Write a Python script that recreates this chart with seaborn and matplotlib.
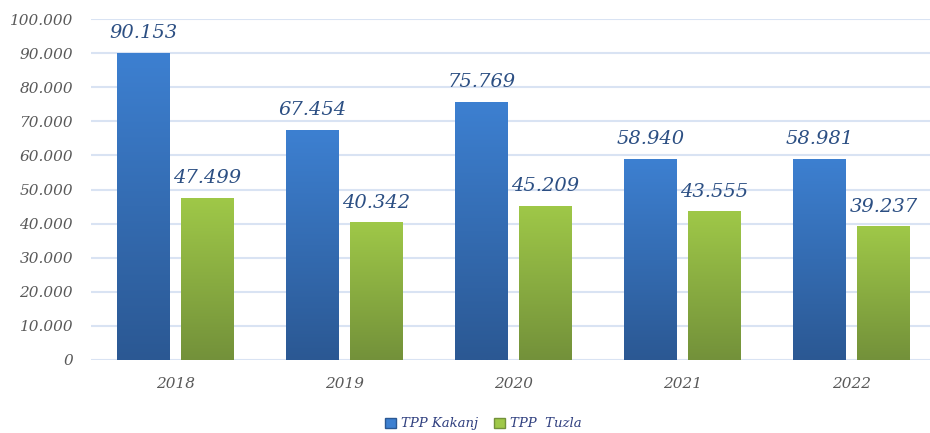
import numpy as np
import pandas as pd
import matplotlib
matplotlib.use("Agg")
import matplotlib.pyplot as plt
from matplotlib.colors import LinearSegmentedColormap
from matplotlib.ticker import FuncFormatter
from matplotlib.patches import Patch
import seaborn as sns

years = ["2018", "2019", "2020", "2021", "2022"]
kakanj = [90153, 67454, 75769, 58940, 58981]
tuzla = [47499, 40342, 45209, 43555, 39237]
series_names = ["TPP Kakanj", "TPP  Tuzla"]

df = pd.DataFrame({
    "year": years * 2,
    "value": kakanj + tuzla,
    "plant": [series_names[0]] * len(years) + [series_names[1]] * len(years),
})

sns.set_theme(style="white")
plt.rcParams["font.family"] = ["DejaVu Serif"]

fig = plt.figure(figsize=(9.3, 4.33), dpi=100)
ax = fig.add_axes([0.098, 0.1686, 0.9086, 0.7874])

grads = {
    series_names[0]: ("#3d80d1", "#2b5893"),
    series_names[1]: ("#9fc848", "#73913a"),
}

sns.barplot(data=df, x="year", y="value", hue="plant", ax=ax,
            palette=[grads[s][0] for s in series_names],
            width=0.757, gap=0.172, legend=False, errorbar=None)

ax.set_ylim(0, 100000)
ax.set_xlim(-0.5, len(years) - 0.5)
ax.set_yticks(np.arange(0, 100001, 10000))
ax.yaxis.set_major_formatter(FuncFormatter(lambda v, p: f"{int(v):,}".replace(",", ".")))
ax.grid(axis="y", color="#d9e3f3", linewidth=1.5)
ax.set_axisbelow(True)
for s in ax.spines.values():
    s.set_visible(False)
ax.set_xlabel("")
ax.set_ylabel("")
ax.tick_params(axis="both", length=0, labelsize=11, labelcolor="#595959")
ax.tick_params(axis="y", pad=13)
ax.tick_params(axis="x", pad=12)
for t in ax.get_xticklabels() + ax.get_yticklabels():
    t.set_fontstyle("italic")

# gradient fill
patches = [p for p in ax.patches if p.get_height() > 0]
n = len(years)
for i, p in enumerate(patches):
    sname = series_names[i // n]
    top, bot = grads[sname]
    cmap = LinearSegmentedColormap.from_list("g", [bot, top])
    x0, y0 = p.get_x(), p.get_y()
    w, h = p.get_width(), p.get_height()
    grad = np.linspace(0, 1, 256).reshape(-1, 1)
    im = ax.imshow(grad, cmap=cmap, origin="lower", aspect="auto",
                   extent=[x0, x0 + w, y0, y0 + h], zorder=3)
    im.set_clip_path(p)
    p.set_facecolor("none")
    p.set_edgecolor("none")
    ax.annotate(f"{int(round(h)):,}".replace(",", "."),
                (x0 + w / 2, y0 + h), xytext=(0, 10.5), textcoords="offset points",
                ha="center", va="baseline", fontsize=14, fontstyle="italic",
                color="#2c4f83", zorder=5)

ax.set_xlim(-0.5, len(years) - 0.5)
ax.set_ylim(0, 100000)

handles = [Patch(facecolor=grads[s][0], edgecolor=grads[s][1], label=s) for s in series_names]
leg = fig.legend(handles=handles, loc="center", bbox_to_anchor=(0.52, 0.021),
                 ncol=2, frameon=False, handlelength=0.8, handleheight=0.8,
                 handletextpad=0.4, columnspacing=1.2,
                 prop={"style": "italic", "size": 9.5, "family": "DejaVu Serif"})
for t in leg.get_texts():
    t.set_color("#2f3f7f")

fig.savefig("out.png", dpi=100)
